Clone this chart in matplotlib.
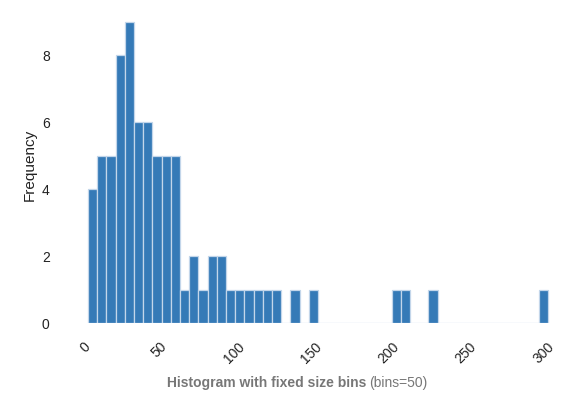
import numpy as np
import matplotlib
matplotlib.use("Agg")
import matplotlib.pyplot as plt

# counts per bin (50 equal bins)
bin_counts = [4, 5, 5, 8, 9, 6, 6, 5, 5, 5,
              1, 2, 1, 2, 2, 1, 1, 1, 1, 1,
              1, 0, 1, 0, 1, 0, 0, 0, 0, 0,
              0, 0, 0, 1, 1, 0, 0, 1, 0, 0,
              0, 0, 0, 0, 0, 0, 0, 0, 0, 1]
data_min = 3.4
data_max = 300.8
n_bins = 50
x_ticks = [0, 50, 100, 150, 200, 250, 300]
y_ticks = [0, 2, 4, 6, 8]

plt.rcParams['font.family'] = ['Liberation Sans', 'DejaVu Sans']

edges = np.linspace(data_min, data_max, n_bins + 1)
centers = (edges[:-1] + edges[1:]) / 2

fig = plt.figure(figsize=(5.84, 4.11), dpi=100)
ax = fig.add_axes([65 / 584, 88 / 411, 506 / 584, 316 / 411])

ax.hist(centers, bins=edges, weights=bin_counts,
        color='#357ab7', edgecolor='#c3d6ea', linewidth=0.9)

ax.set_xlim(-11.5, 315.7)
ax.set_ylim(0, 9.45)
ax.set_xticks(x_ticks)
ax.set_yticks(y_ticks)
for s in ax.spines.values():
    s.set_visible(False)
ax.tick_params(length=0, labelsize=10, colors='#222222')
ax.tick_params(axis='y', pad=11)
ax.tick_params(axis='x', pad=12)
plt.setp(ax.get_xticklabels(), rotation=45, ha='right', rotation_mode='anchor')
ax.set_ylabel('Frequency', fontsize=11, color='#222222', labelpad=4)

fig.text(366 / 584, 1 - 383 / 411, 'Histogram with fixed size bins',
         ha='right', va='center', fontsize=10, fontweight='bold', color='#777777')
fig.text(369 / 584, 1 - 383 / 411, '(bins=50)',
         ha='left', va='center', fontsize=10, color='#777777')

fig.savefig('out.png', dpi=100)
